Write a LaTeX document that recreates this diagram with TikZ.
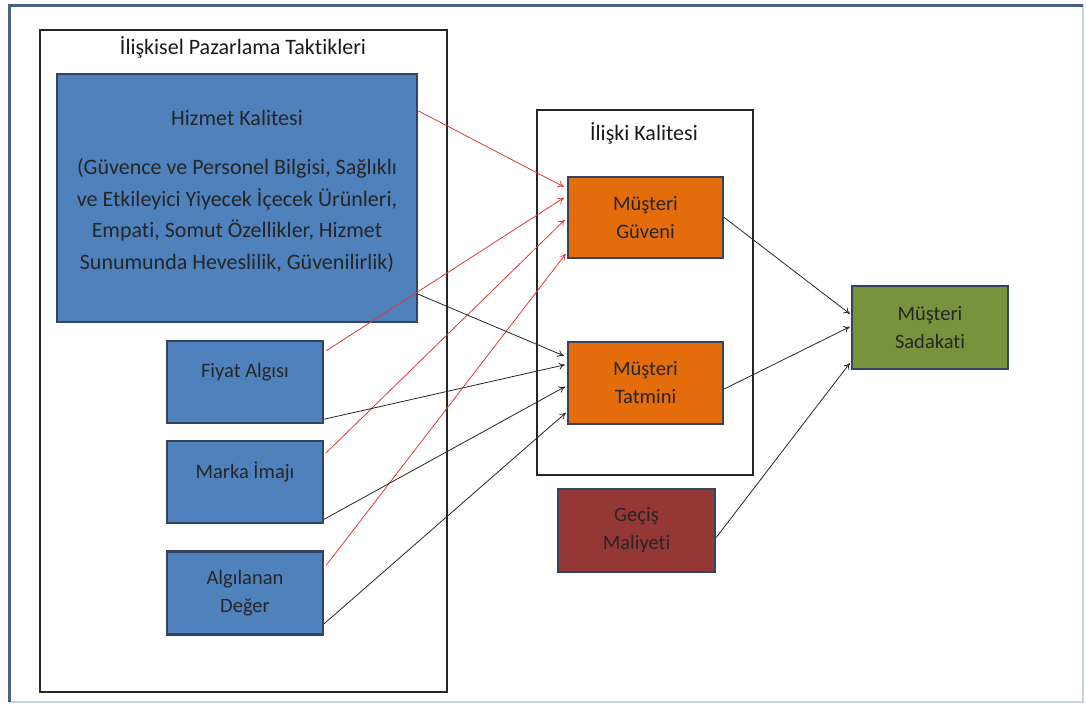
\documentclass[tikz,border=0pt]{standalone}
\usepackage{fontspec}
\setmainfont{Carlito}[Ligatures=NoCommon]
\usepackage{xcolor}
\usetikzlibrary{arrows.meta, positioning, calc}
\definecolor{tacticblue}{RGB}{79,129,189}
\definecolor{qualityorange}{RGB}{228,108,10}
\definecolor{costred}{RGB}{149,55,53}
\definecolor{loyaltygreen}{RGB}{119,147,60}
\definecolor{boxline}{RGB}{50,68,98}
\definecolor{framedark}{RGB}{75,96,126}
\definecolor{framelight}{RGB}{196,212,232}
\definecolor{linkred}{RGB}{222,58,58}
\tikzset{
    factor/.style={rectangle, draw=boxline, line width=2.4pt, text=black!85, align=center, minimum width=156pt, minimum height=82pt, font=\fontsize{20.5}{28}\selectfont},
    tactic/.style={factor, fill=tacticblue},
    quality/.style={factor, fill=qualityorange},
    oneline/.style={text depth=24pt},
    groupbox/.style={rectangle, draw=black!85, line width=1.3pt},
    grouptitle/.style={font=\fontsize{22}{24}\selectfont, text=black!90},
    redarrow/.style={-{To[length=6pt,width=7pt]}, draw=linkred, line width=0.8pt},
    arrow/.style={-{To[length=6pt,width=7pt]}, draw=black!85, line width=0.8pt},
}
\begin{document}
\begin{tikzpicture}[x=1pt, y=-1pt]
    \useasboundingbox (0,0) rectangle (1086,704);
    % frame
    \draw[framelight, line width=2pt] (9,702) -| (1083,5);
    \draw[framedark, line width=3pt] (9,702) |- (1083,5);

    % GROUPS
    \node[groupbox, minimum width=407pt, minimum height=662pt] (taktik) at (243.5,361) {};
    \node[grouptitle] (taktiktitle) at (243,47) {İlişkisel Pazarlama Taktikleri};
    \node[groupbox, minimum width=216pt, minimum height=365pt] (iliski) at (645,292.5) {};
    \node[grouptitle] (iliskititle) at (644,133) {İlişki Kalitesi};

    % TACTICS
    \node[tactic, minimum width=360pt, minimum height=248pt, font=\fontsize{22}{31.5}\selectfont] (hizmet) at (237,198) {
        Hizmet Kalitesi\\[18pt]
        (Güvence ve Personel Bilgisi, Sağlıklı\\
        ve Etkileyici Yiyecek İçecek Ürünleri,\\
        Empati, Somut Özellikler, Hizmet\\
        Sunumunda Heveslilik, Güvenilirlik)\\[-24pt]\strut
    };
    \node[tactic, oneline] (fiyat) at (245,382) {Fiyat Algısı};
    \node[tactic, oneline] (marka) at (245,482) {Marka İmajı};
    \node[tactic, minimum height=83pt] (deger) at (245,593) {Algılanan\\Değer};

    % RELATIONSHIP QUALITY
    \node[quality, minimum width=155pt, minimum height=81pt] (guven) at (645.5,217.5) {Müşteri\\Güveni};
    \node[quality, minimum width=155pt] (tatmin) at (645.5,383) {Müşteri\\Tatmini};
    \node[factor, fill=costred, minimum width=157pt, minimum height=83pt] (gecis) at (636.5,530.5) {Geçiş\\Maliyeti};

    % OUTCOME
    \node[factor, fill=loyaltygreen, minimum height=83pt] (sadakat) at (930,327.5) {Müşteri\\Sadakati};

    % Arrows to trust
    \draw[redarrow] ($(hizmet.north east)+(0,38)$) -- ($(guven.north west)+(-3,11)$);
    \draw[redarrow] ($(fiyat.north east)+(2,11)$) -- ($(guven.north west)+(-3,22)$);
    \draw[redarrow] ($(marka.north east)+(2,13)$) -- ($(guven.north west)+(-2,44)$);
    \draw[redarrow] ($(deger.north east)+(2,15)$) -- ($(guven.north west)+(-1,78)$);

    % Arrows to satisfaction
    \draw[arrow] ($(hizmet.south east)+(0,-29)$) -- ($(tatmin.north west)+(-3,15)$);
    \draw[arrow] ($(fiyat.south east)+(0,-5)$) -- ($(tatmin.north west)+(-2,24)$);
    \draw[arrow] ($(marka.south east)+(0,-5)$) -- ($(tatmin.north west)+(-2,46)$);
    \draw[arrow] ($(deger.south east)+(0,-12)$) -- ($(tatmin.north west)+(-1,72)$);

    % Arrows to loyalty
    \draw[arrow] (guven.east) -- ($(sadakat.north west)+(-1,29)$);
    \draw[arrow] ($(tatmin.east)+(0,6)$) -- ($(sadakat.north west)+(-1,42)$);
    \draw[arrow] ($(gecis.east)+(0,7)$) -- ($(sadakat.south west)+(-1,-7)$);

\end{tikzpicture}
\end{document}
